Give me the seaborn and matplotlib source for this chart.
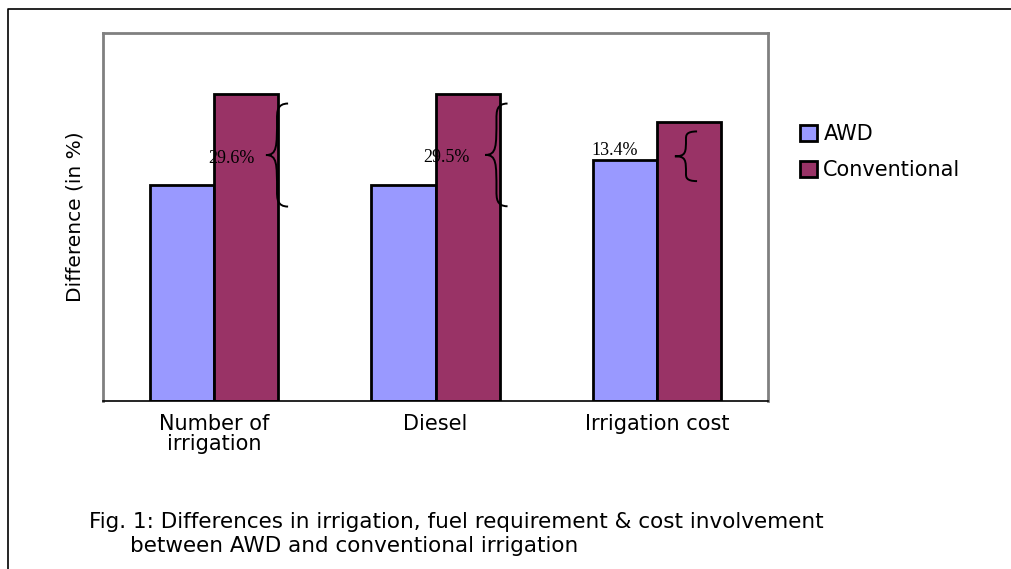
import numpy as np
import pandas as pd
import seaborn as sns
import matplotlib.pyplot as plt
from matplotlib.path import Path
from matplotlib.patches import PathPatch, Rectangle
from matplotlib.lines import Line2D

# data (bar heights relative, conventional group 1 = 100)
categories = ["Number of\nirrigation", "Diesel", "Irrigation cost"]
awd = [70.4, 70.5, 78.7]
conventional = [100.0, 100.0, 90.9]
diff_labels = ["29.6%", "29.5%", "13.4%"]

sns.set_style("white")
plt.rcParams['font.family'] = ['DejaVu Sans']
plt.rcParams['text.color'] = 'black'
plt.rcParams['xtick.color'] = 'black'
plt.rcParams['axes.labelcolor'] = 'black'

df = pd.DataFrame({
    "category": categories * 2,
    "value": awd + conventional,
    "series": ["AWD"] * 3 + ["Conventional"] * 3,
})
colors = {"AWD": "#9999FF", "Conventional": "#993366"}

fig = plt.figure(figsize=(10.11, 5.69), dpi=100)
ax = fig.add_axes([103 / 1011, 1 - 401 / 569, 665 / 1011, 368 / 569])

sns.barplot(data=df, x="category", y="value", hue="series", palette=colors,
            saturation=1, width=0.58, gap=0, edgecolor="black", linewidth=2,
            ax=ax, legend=False)

ax.set_xlim(-0.5, 2.5)
ax.set_ylim(0, 120)
ax.set_yticks([])
ax.set_xticks([0, 1, 2])
ax.set_xticklabels(categories, fontsize=15, linespacing=1.05)
ax.tick_params(axis="x", which="major", length=0, pad=9)
ax.set_xticks([-0.5, 0.5, 1.5, 2.5], minor=True)
ax.tick_params(axis="x", which="minor", length=6, width=1, color="black")
ax.set_xlabel("")
ax.set_ylabel("Difference (in %)", fontsize=14.5)
ax.yaxis.set_label_coords(-0.028, 0.5)

for side in ["left", "top", "right"]:
    ax.spines[side].set_color("#808080")
    ax.spines[side].set_linewidth(2)
ax.spines["bottom"].set_color("black")
ax.spines["bottom"].set_linewidth(1.2)


def brace(ax, x, y0, y1, w):
    # curly brace pointing left, vertical stem at x, from y0 (bottom) to y1 (top)
    ym = (y0 + y1) / 2
    h = (y1 - y0)
    verts = [
        (x + w * 0.5, y1), (x, y1), (x, y1 - h * 0.08), (x, y1 - h * 0.15),
        (x, ym + h * 0.08), (x, ym), (x - w * 0.5, ym),
        (x, ym), (x, ym - h * 0.08), (x, y0 + h * 0.15),
        (x, y0 + h * 0.08), (x, y0), (x + w * 0.5, y0),
    ]
    codes = [Path.MOVETO] + [Path.CURVE4] * 12
    ax.add_patch(PathPatch(Path(verts, codes), fill=False, lw=1.4,
                           edgecolor="black", zorder=5))


# brace stems and label positions (annotation placement)
brace_x = [0.285, 1.275, 2.13]
label_x = [0.08, 1.05, 1.81]
for i in range(3):
    top = conventional[i] - 3
    bottom = awd[i] - 7
    brace(ax, brace_x[i], bottom, top, 0.1)
    if i < 2:
        ly = (top + bottom) / 2 - 1
        va = "center"
    else:
        ly = awd[i] + 0.3
        va = "bottom"
    ax.text(label_x[i], ly, diff_labels[i], ha="center", va=va, fontsize=13,
            family=["Liberation Serif", "DejaVu Serif"], zorder=6)

# legend
handles = [Rectangle((0, 0), 1, 1, facecolor=colors[k], edgecolor="black", lw=2)
           for k in ["AWD", "Conventional"]]
fig.legend(handles, ["AWD", "Conventional"], loc="upper left",
           bbox_to_anchor=(790 / 1011, 1 - 114 / 569), frameon=False,
           fontsize=15, handlelength=0.8, handleheight=0.8,
           handletextpad=0.3, labelspacing=0.75, borderpad=0)

# outer frame
fig.add_artist(Line2D([8 / 1011, 8 / 1011, 1.0], [0.0, 1 - 9 / 569, 1 - 9 / 569],
                      transform=fig.transFigure, color="black", lw=1.2))

# caption
fig.text(89 / 1011, 1 - 522 / 569,
         "Fig. 1: Differences in irrigation, fuel requirement & cost involvement",
         fontsize=15.5, va="center", ha="left")
fig.text(130 / 1011, 1 - 546 / 569,
         "between AWD and conventional irrigation",
         fontsize=15.5, va="center", ha="left")

fig.savefig("out.png", dpi=100)
